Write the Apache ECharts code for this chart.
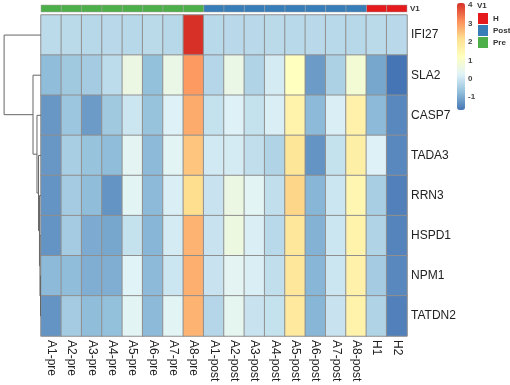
<!DOCTYPE html>
<html>
<head>
<meta charset="utf-8">
<script src="https://cdn.jsdelivr.net/npm/echarts@6/dist/echarts.min.js"></script>
<style>
  html, body { margin: 0; padding: 0; background: #fff; }
  #heat { width: 510px; height: 385px; }
</style>
</head>
<body>
<div id="heat"></div>
<script>
  // columns (samples) and their group annotation
  var samples = ['A1-pre', 'A2-pre', 'A3-pre', 'A4-pre', 'A5-pre', 'A6-pre', 'A7-pre', 'A8-pre',
    'A1-post', 'A2-post', 'A3-post', 'A4-post', 'A5-post', 'A6-post', 'A7-post', 'A8-post', 'H1', 'H2'];
  var groups = ['Pre', 'Pre', 'Pre', 'Pre', 'Pre', 'Pre', 'Pre', 'Pre',
    'Post', 'Post', 'Post', 'Post', 'Post', 'Post', 'Post', 'Post', 'H', 'H'];
  var groupNames = ['H', 'Post', 'Pre'];
  var groupColors = ['#e41a1c', '#377eb8', '#4daf4a'];

  // rows, top to bottom
  var genes = ['IFI27', 'SLA2', 'CASP7', 'TADA3', 'RRN3', 'HSPD1', 'NPM1', 'TATDN2'];

  // row-scaled values, one array per gene, in sample order
  var IFI27  = [-0.22, -0.23, -0.26, -0.24, -0.27, -0.23, -0.26, 4.12, -0.25, -0.24, -0.24, -0.23, -0.25, -0.24, -0.25, -0.26, -0.23, -0.24];
  var SLA2   = [-0.75, -0.55, -0.5, -0.2, 0.6, -0.7, 0.55, 3.0, -0.3, 0.55, -0.35, 0.1, 1.2, -1.2, -0.4, 0.85, -1.05, -1.75];
  var CASP7  = [-1.25, -0.6, -1.2, -0.55, 0.0, -0.65, 0.2, 2.8, -0.1, 0.2, -0.1, 0.15, 1.6, -0.8, 0.15, 1.65, -0.8, -1.45];
  var TADA3  = [-1.25, -0.45, -0.65, -0.75, 0.35, -0.8, 0.3, 2.5, 0.05, 0.1, -0.15, -0.35, 2.0, -1.3, -0.1, 1.7, 0.2, -1.45];
  var RRN3   = [-1.3, -0.5, -0.75, -1.3, 0.3, -0.8, 0.15, 2.2, -0.05, 0.6, 0.3, -0.15, 2.3, -0.85, 0.0, 1.5, -0.45, -1.55];
  var HSPD1  = [-1.3, -0.5, -1.0, -1.05, -0.1, -0.85, 0.1, 2.7, -0.05, 0.65, 0.15, -0.25, 1.95, -0.9, 0.0, 1.6, -0.35, -1.5];
  var NPM1   = [-0.8, -0.75, -0.95, -0.95, 0.25, -0.8, 0.0, 2.75, -0.05, 0.35, 0.15, -0.15, 1.95, -0.85, 0.0, 1.65, -0.5, -1.45];
  var TATDN2 = [-1.3, -0.5, -0.75, -0.7, 0.3, -0.8, 0.3, 2.7, -0.3, 0.4, -0.05, -0.1, 1.9, -0.85, -0.05, 1.6, -0.35, -1.55];

  // row dendrogram, hclust style: negative = leaf (1-based row), positive = earlier merge
  var merges = [[-7, -8, 0.12], [-6, 1, 0.25], [-5, 2, 0.37], [-4, 3, 0.6], [-3, 4, 0.98], [-2, 5, 1.95], [-1, 6, 9.0]];

  // colour key
  var scaleMin = -1.7;
  var scaleMax = 4.12;
  var scaleTicks = [-1, 0, 1, 2, 3, 4];
  var palette = ['#4575b4', '#91bfdb', '#e0f3f8', '#ffffbf', '#fee090', '#fc8d59', '#d73027'];

  var rowsData = [IFI27, SLA2, CASP7, TADA3, RRN3, HSPD1, NPM1, TATDN2];
  var cells = [];
  rowsData.forEach(function (row, r) {
    row.forEach(function (v, c) { cells.push([c, r, v]); });
  });

  // elbow segments for the dendrogram
  var nodePos = [];
  var segs = [];
  merges.forEach(function (m, i) {
    function child(k) {
      return k < 0 ? { y: -k - 0.5, h: 0 } : nodePos[k - 1];
    }
    var a = child(m[0]), b = child(m[1]);
    nodePos[i] = { y: (a.y + b.y) / 2, h: m[2] };
    segs.push([a.h, a.y, b.h, b.y, m[2]]);
  });

  var font = 'Liberation Sans, Arial, sans-serif';

  function annotSeries(name, color) {
    var data = [];
    samples.forEach(function (s, i) {
      if (groups[i] === name) data.push([s, 'V1']);
    });
    return {
      name: name,
      type: 'custom',
      xAxisIndex: 1,
      yAxisIndex: 1,
      itemStyle: { color: color },
      renderItem: function (params, api) {
        var p = api.coord([api.value(0), api.value(1)]);
        var s = api.size([1, 1]);
        return {
          type: 'rect',
          shape: { x: p[0] - s[0] / 2, y: p[1] - s[1] / 2, width: s[0], height: s[1] },
          style: { fill: api.visual('color'), stroke: '#a0a0a0', lineWidth: 0.5 }
        };
      },
      data: data
    };
  }

  var myChart = echarts.init(document.getElementById('heat'));
  myChart.setOption({
    backgroundColor: '#fff',
    animation: false,
    textStyle: { fontFamily: font },
    title: {
      text: 'V1',
      left: 477,
      top: 2,
      padding: 0,
      textStyle: { fontSize: 8, fontWeight: 'bold', color: '#333' }
    },
    legend: {
      data: groupNames,
      orient: 'vertical',
      left: 478,
      top: 13,
      padding: 0,
      itemWidth: 10,
      itemHeight: 11,
      itemGap: 1,
      icon: 'rect',
      selectedMode: false,
      textStyle: { fontSize: 8, fontWeight: 'bold', color: '#333', width: 30, overflow: 'none' }
    },
    grid: [
      { left: 41, top: 15, width: 366, height: 321 },   // heatmap
      { left: 41, top: 5, width: 366, height: 7 },      // annotation strip
      { left: 0, top: 15, width: 41, height: 321 },     // dendrogram
      { left: 457, top: 3, width: 8, height: 107 }      // colour key axis
    ],
    xAxis: [
      {
        type: 'category', gridIndex: 0, data: samples,
        axisLine: { show: false }, axisTick: { show: false }, splitArea: { show: false },
        axisLabel: { rotate: -90, interval: 0, margin: 4, fontSize: 12, color: '#222' }
      },
      { type: 'category', gridIndex: 1, data: samples, show: false },
      { type: 'value', gridIndex: 2, min: 0, max: 10, inverse: true, show: false },
      { type: 'value', gridIndex: 3, min: 0, max: 1, show: false }
    ],
    yAxis: [
      {
        type: 'category', gridIndex: 0, data: genes, inverse: true, position: 'right',
        axisLine: { show: false }, axisTick: { show: false }, splitArea: { show: false },
        axisLabel: { margin: 4, fontSize: 12, color: '#222' }
      },
      {
        type: 'category', gridIndex: 1, data: ['V1'], position: 'right',
        axisLine: { show: false }, axisTick: { show: false },
        axisLabel: { margin: 3, fontSize: 8, fontWeight: 'bold', color: '#333' }
      },
      { type: 'value', gridIndex: 2, min: 0, max: 8, inverse: true, show: false },
      {
        type: 'value', gridIndex: 3, min: scaleMin, max: scaleMax, position: 'right',
        axisLine: { show: false }, axisTick: { show: false }, splitLine: { show: false },
        axisLabel: { customValues: scaleTicks, margin: 3, fontSize: 8, fontWeight: 'bold', color: '#444' }
      }
    ],
    visualMap: {
      type: 'continuous',
      seriesIndex: 0,
      min: scaleMin,
      max: scaleMax,
      left: 457,
      top: 3,
      padding: 0,
      itemWidth: 8,
      itemHeight: 107,
      calculable: false,
      hoverLink: false,
      inRange: { color: palette }
    },
    series: [
      {
        type: 'heatmap',
        xAxisIndex: 0,
        yAxisIndex: 0,
        data: cells,
        itemStyle: { borderColor: '#8f8f8f', borderWidth: 1 },
        emphasis: { disabled: true }
      },
      annotSeries('H', groupColors[0]),
      annotSeries('Post', groupColors[1]),
      annotSeries('Pre', groupColors[2]),
      {
        type: 'custom',
        xAxisIndex: 2,
        yAxisIndex: 2,
        clip: false,
        data: segs,
        renderItem: function (params, api) {
          var p1 = api.coord([api.value(0), api.value(1)]);
          var p2 = api.coord([api.value(4), api.value(1)]);
          var p3 = api.coord([api.value(4), api.value(3)]);
          var p4 = api.coord([api.value(2), api.value(3)]);
          return {
            type: 'polyline',
            shape: { points: [p1, p2, p3, p4] },
            style: { stroke: '#666', lineWidth: 1, fill: null }
          };
        }
      }
    ]
  });
</script>
</body>
</html>
